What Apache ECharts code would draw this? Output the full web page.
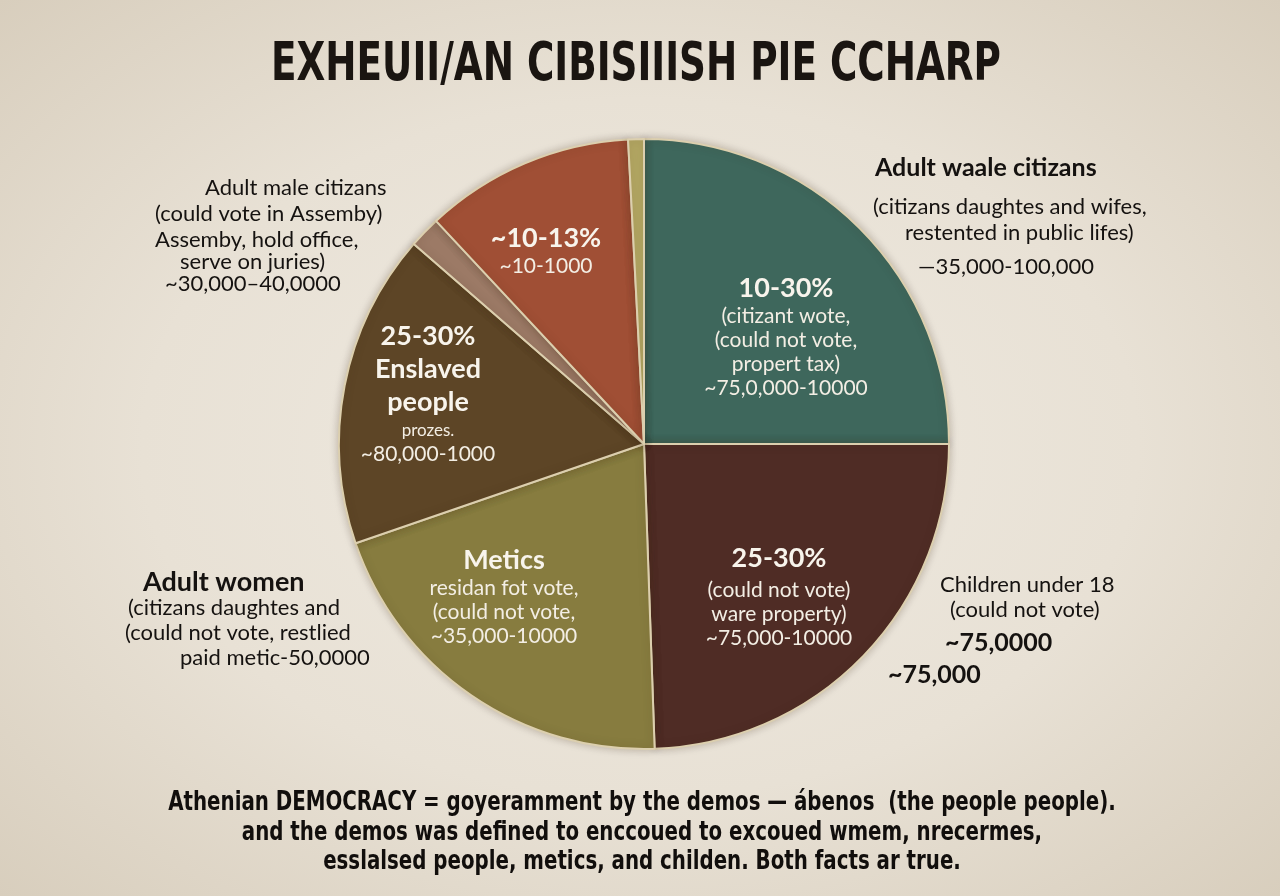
<!DOCTYPE html>
<html lang="en">
<head>
<meta charset="UTF-8">
<title>Athenian pie chart</title>
<script src="https://cdn.jsdelivr.net/npm/echarts@6/dist/echarts.min.js"></script>
<style>
    * { margin: 0; padding: 0; }
    html, body {
        width: 1280px;
        height: 896px;
        overflow: hidden;
        background: radial-gradient(ellipse at 50% 50%, #efeae1 0%, #e8e1d5 55%, #d8cebd 100%);
    }
    #chart { width: 1280px; height: 896px; }
</style>
</head>
<body>
<div id="chart"></div>
<script>
    // slices, clockwise from 12 o'clock (values = share of the circle)
    var sliceNames = ['Adult waale citizans', 'Children under 18', 'Metics', 'Enslaved people', 'Adult male citizans', 'Adult women', 'Other'];
    var sliceValues = [90, 88, 73, 60, 6, 40, 3];
    var sliceColors = ['#3e675c', '#4f2c25', '#877c3f', '#5d4526', '#9c7a66', '#a04f35', '#b3a763'];

    // white text printed inside slices
    var sliceHeads = [['10-30%'], ['25-30%'], ['Metics'], ['25-30%', 'Enslaved', 'people'], [], ['~10-13%'], []];
    var sliceNotes = [
        ['(citizant wote,', '(could not vote,', 'propert tax)', '~75,0,000-10000'],
        ['(could not vote)', 'ware property)', '~75,000-10000'],
        ['residan fot vote,', '(could not vote,', '~35,000-10000'],
        ['prozes.', '~80,000-1000'],
        [],
        ['~10-1000'],
        []
    ];

    // black annotations around the pie
    var noteTopLeft = ['Adult male citizans', '(could vote in Assemby)', 'Assemby, hold office,', 'serve on juries)', '~30,000\u201340,0000'];
    var noteTopRight = ['Adult waale citizans', '(citizans daughtes and wifes,', 'restented in public lifes)', '\u201435,000-100,000'];
    var noteBottomLeft = ['Adult women', '(citizans daughtes and', '(could not vote, restlied', 'paid metic-50,0000'];
    var noteBottomRight = ['Children under 18', '(could not vote)', '~75,0000', '~75,000'];

    var titleText = 'EXHEUII/AN CIBISIIISH PIE CCHARP';
    var footLines = [
        'Athenian DEMOCRACY = goyeramment by the demos \u2014 \u00e1benos  (the people people).',
        'and the demos was defined to enccoued to excoued wmem, nrecermes,',
        'esslalsed people, metics, and childen. Both facts ar true.'
    ];

    var bodyFont = 'Lato, "Open Sans", sans-serif';
    var condFont = '"DejaVu Sans Condensed", "Liberation Sans Narrow", sans-serif';

    // label centres inside slices (x, block middle y)
    var labelPos = [[786, 336], [779, 594], [504, 596], [428, 393], [0, 0], [546, 250], [0, 0]];

    function noteBlock(lines, lefts, tops, boldIdx, boldSize) {
        return lines.map(function (t, i) {
            var bold = boldIdx.indexOf(i) >= 0;
            return {
                type: 'text',
                style: {
                    x: lefts[i], y: tops[i],
                    text: t,
                    fill: '#151210',
                    font: (bold ? 'bold ' + boldSize + 'px ' : '22px ') + bodyFont,
                    textAlign: 'left',
                    textVerticalAlign: 'middle'
                }
            };
        });
    }

    var graphics = [];
    graphics.push({
        type: 'text',
        x: 636, y: 66,
        scaleX: 0.783,
        style: {
            x: 0, y: 0,
            text: titleText,
            fill: '#1a1511',
            font: 'bold 53px ' + condFont,
            textAlign: 'center',
            textVerticalAlign: 'middle'
        }
    });
    footLines.forEach(function (t, i) {
        graphics.push({
            type: 'text',
            x: 642, y: 803 + i * 29.5,
            scaleX: 0.815,
            style: {
                x: 0, y: 0,
                text: t,
                fill: '#110e0c',
                font: 'bold 27px ' + condFont,
                textAlign: 'center',
                textVerticalAlign: 'middle'
            }
        });
    });
    graphics = graphics
        .concat(noteBlock(noteTopLeft, [205, 155, 155, 180, 165], [188, 214, 240, 262, 284], [], 25))
        .concat(noteBlock(noteTopRight, [875, 873, 905, 918], [168, 207, 233, 267], [0], 25))
        .concat(noteBlock(noteBottomLeft, [143, 128, 125, 180], [582, 608, 633, 658], [0], 27))
        .concat(noteBlock(noteBottomRight, [940, 950, 945, 888], [585, 610, 643, 675], [2, 3], 25));

    var pieData = sliceNames.map(function (n, i) {
        return { name: n, value: sliceValues[i], itemStyle: { color: sliceColors[i] } };
    });

    var chart = echarts.init(document.getElementById('chart'));
    chart.setOption({
        backgroundColor: 'transparent',
        animation: false,
        graphic: graphics,
        series: [{
            type: 'pie',
            center: [644, 444],
            radius: 305,
            startAngle: 90,
            clockwise: true,
            emphasis: { disabled: true },
            itemStyle: {
                borderColor: '#dccfae',
                borderWidth: 2,
                shadowBlur: 8,
                shadowColor: 'rgba(60,40,20,0.25)'
            },
            labelLine: { show: false },
            label: {
                show: true,
                position: 'inside',
                color: '#f6f1e8',
                align: 'center',
                fontFamily: bodyFont,
                formatter: function (p) {
                    var heads = sliceHeads[p.dataIndex].map(function (t) {
                        return (p.dataIndex === 1 ? '{hg|' : '{h|') + t + '}';
                    });
                    var notes = sliceNotes[p.dataIndex].map(function (t, j) {
                        return (p.dataIndex === 3 && j === 0 ? '{s|' : '{b|') + t + '}';
                    });
                    return heads.concat(notes).join('\n');
                },
                rich: {
                    h: { fontFamily: bodyFont, fontWeight: 'bold', fontSize: 27, lineHeight: 33, color: '#f8f4ec', align: 'center' },
                    hg: { fontFamily: bodyFont, fontWeight: 'bold', fontSize: 27, lineHeight: 40, color: '#f8f4ec', align: 'center' },
                    b: { fontFamily: bodyFont, fontSize: 21, lineHeight: 24, color: '#f3eee4', align: 'center' },
                    s: { fontFamily: bodyFont, fontSize: 17, lineHeight: 24, color: '#f3eee4', align: 'center' }
                }
            },
            labelLayout: function (p) {
                var pos = labelPos[p.dataIndex];
                return { x: pos[0], y: pos[1], align: 'center', verticalAlign: 'middle' };
            },
            data: pieData
        }]
    });
</script>
</body>
</html>
